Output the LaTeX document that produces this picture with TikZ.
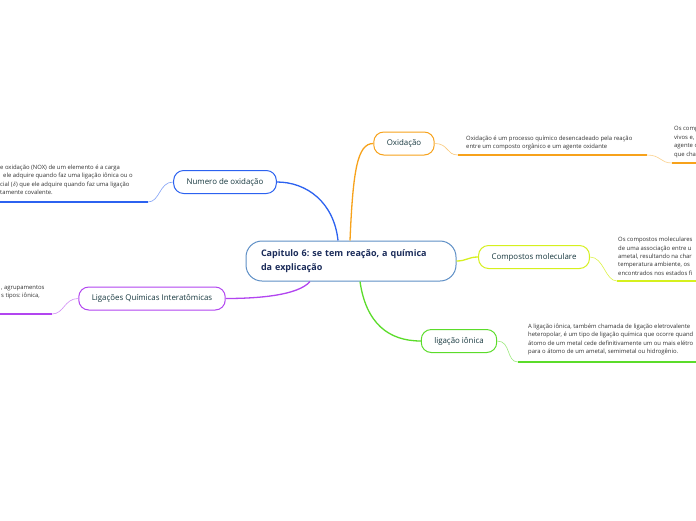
\documentclass[tikz,border=0pt]{standalone}
\usepackage{fontspec}
\setmainfont{Open Sans}
\usetikzlibrary{positioning,calc}
\definecolor{MapBlue}{HTML}{2C62F0}
\definecolor{MapOrange}{HTML}{F7A21B}
\definecolor{MapLime}{HTML}{D6F01E}
\definecolor{MapGreen}{HTML}{5BDC2A}
\definecolor{MapPurple}{HTML}{B245F0}
\definecolor{MapSteel}{HTML}{5E8FC6}
\definecolor{MapText}{HTML}{17383F}
\definecolor{MapNavy}{HTML}{1B2C5A}
\definecolor{DescText}{HTML}{333333}
\frenchspacing

\begin{document}
\begin{tikzpicture}[x=1pt,y=-1pt,
    topic/.style={draw,rounded corners=10pt,fill=white,line width=1pt,minimum height=23pt,inner xsep=13pt,text=MapText,font=\fontsize{7.9}{9}\selectfont},
    desc/.style={anchor=north west,inner sep=0pt,align=left,text=DescText,font=\fontsize{5.9}{8.4}\selectfont},
    branch/.style={line width=1.3pt},
    twig/.style={line width=0.6pt},
    rule/.style={line width=1.7pt}]
  \useasboundingbox[fill=white] (0,0) rectangle (696,520);

  % central topic
  \node[draw=MapSteel,line width=1pt,rounded corners=16pt,fill=white,minimum width=210pt,minimum height=40pt,text width=180pt,align=left,text=MapNavy,font=\bfseries\fontsize{9}{13.5}\selectfont] (central) at (351,261) {Capitulo 6: se tem reação, a química\\da explicação};

  % main topics
  \node[topic,draw=MapBlue] (nox) at (225,182) {Numero de oxidação};
  \node[topic,draw=MapOrange] (oxid) at (404,143.5) {Oxidação};
  \node[topic,draw=MapLime] (comp) at (534,257) {Compostos moleculare};
  \node[topic,draw=MapGreen] (ionica) at (459,341) {ligação iônica};
  \node[topic,draw=MapPurple] (ligac) at (152,298.5) {Ligações Químicas Interatômicas};

  % branches from the centre
  \draw[branch,MapBlue] ([xshift=-13pt]central.north) .. controls +(-4,-38) and +(30,0) .. (nox.east);
  \draw[branch,MapOrange] ([xshift=-1pt]central.north) .. controls +(3,-70) and +(-16,0) .. (oxid.west);
  \draw[branch,MapLime] (central.east) .. controls +(10,0) and +(-10,0) .. (comp.west);
  \draw[branch,MapGreen] ([xshift=9pt]central.south) .. controls +(6,42) and +(-32,0) .. (ionica.west);
  \draw[branch,MapPurple] ([xshift=-41pt]central.south) .. controls +(-12,14) and +(32,0) .. (ligac.east);

  % notes
  \node[desc] (noxtxt) at (0,164.5) {e oxidação (NOX) de um elemento é a carga\\\hspace*{3pt}ele adquire quando faz uma ligação iônica ou o\\cial ($\delta$) que ele adquire quando faz uma ligação\\tamente covalente.};
  \node[desc] (oxidtxt) at (466,135.5) {Oxidação é um processo químico desencadeado pela reação\\entre um composto orgânico e um agente oxidante};
  \node[desc] (oxidtxtb) at (674,126.5) {Os comp\\vivos e,\\agente o\\que cha};
  \node[desc] (comptxt) at (618,237) {Os compostos moleculares\\de uma associação entre u\\ametal, resultando na char\\temperatura ambiente, os\\encontrados nos estados fi};
  \node[desc] (ionicatxt) at (528,323.5) {A ligação iônica, também chamada de ligação eletrovalente\\heteropolar, é um tipo de ligação química que ocorre quand\\átomo de um metal cede definitivamente um ou mais elétro\\para o átomo de um ametal, semimetal ou hidrogênio.};
  \node[desc] (ligactxt) at (1,285.5) {, agrupamentos\\s tipos: iônica,};

  % underlines
  \coordinate (noxL) at (148,202);   \coordinate (noxE) at (0,202);
  \coordinate (oxidL) at (458,155);  \coordinate (oxidM) at (647,155);
  \coordinate (oxidN) at (672,163);  \coordinate (oxidE) at (696,163);
  \coordinate (compL) at (617,281);  \coordinate (compE) at (696,281);
  \coordinate (ionL) at (518,362);   \coordinate (ionE) at (696,362);
  \coordinate (ligL) at (52,314);    \coordinate (ligE) at (0,314);

  \draw[twig,MapBlue!60] (nox.west) .. controls +(-14,0) and +(12,0) .. (noxL);
  \draw[rule,MapBlue] (noxL) -- (noxE);
  \draw[twig,MapOrange!60] (oxid.east) .. controls +(14,0) and +(-12,0) .. (oxidL);
  \draw[rule,MapOrange] (oxidL) -- (oxidM);
  \draw[twig,MapOrange!50] (oxidM) .. controls +(14,0) and +(-12,0) .. (oxidN);
  \draw[rule,MapOrange] (oxidN) -- (oxidE);
  \draw[twig,MapLime!80] (comp.east) .. controls +(14,0) and +(-12,0) .. (compL);
  \draw[rule,MapLime] (compL) -- (compE);
  \draw[twig,MapGreen!60] (ionica.east) .. controls +(14,0) and +(-12,0) .. (ionL);
  \draw[rule,MapGreen] (ionL) -- (ionE);
  \draw[twig,MapPurple!60] (ligac.west) .. controls +(-14,0) and +(12,0) .. (ligL);
  \draw[rule,MapPurple] (ligL) -- (ligE);
\end{tikzpicture}
\end{document}
